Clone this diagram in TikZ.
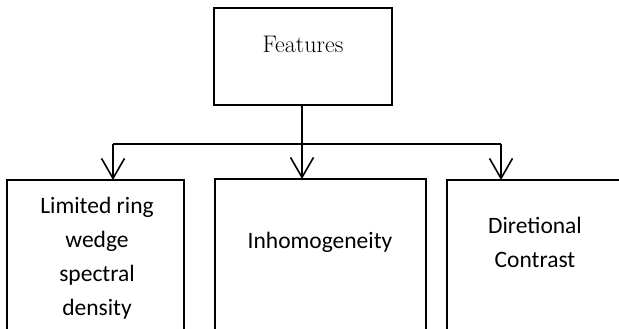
\documentclass[tikz,border=0pt]{standalone}
\usepackage{fontspec}
\newfontfamily\calib{Carlito}
\usetikzlibrary{arrows.meta}
\begin{document}
\begin{tikzpicture}[x=1pt,y=-1pt,
  box/.style={draw=black,line width=1.6pt,fill=none},
  lbl/.style={font=\calib\fontsize{23.5}{34}\selectfont,align=center,text=black},
  conn/.style={line width=1.8pt,-{Straight Barb[length=20pt,width=23pt,line width=1.6pt]}}]
\useasboundingbox (0,0) rectangle (619,329);
\clip (0,0) rectangle (619,329);
% top box
\draw[box] (214,8) rectangle (392,105);
\node[font=\fontsize{24}{28}\selectfont] (feat) at (303,44) {Features};
\coordinate (top) at (302,105);
\coordinate (junc) at (302,144);
\coordinate (jl) at (113,144);
\coordinate (jr) at (501,144);
% lower boxes
\draw[box] (7,180) rectangle (184,360);
\draw[box] (215,179) rectangle (426,360);
\draw[box] (447,180) rectangle (640,360);
\coordinate (lt) at (113,180);
\coordinate (mt) at (302,179);
\coordinate (rt) at (501,180);
\node[lbl] (l1) at (97,258) {Limited ring\\wedge\\spectral\\density};
\node[lbl] (m1) at (320,242) {Inhomogeneity};
\node[lbl] (r1) at (535,242) {Diretional\\Contrast};
% connectors
\draw[line width=1.8pt] (top) -- (junc);
\draw[line width=1.8pt] (jl) -- (jr);
\draw[conn] (jl) -- (lt);
\draw[conn] (junc) -- (mt);
\draw[conn] (jr) -- (rt);
\end{tikzpicture}
\end{document}
